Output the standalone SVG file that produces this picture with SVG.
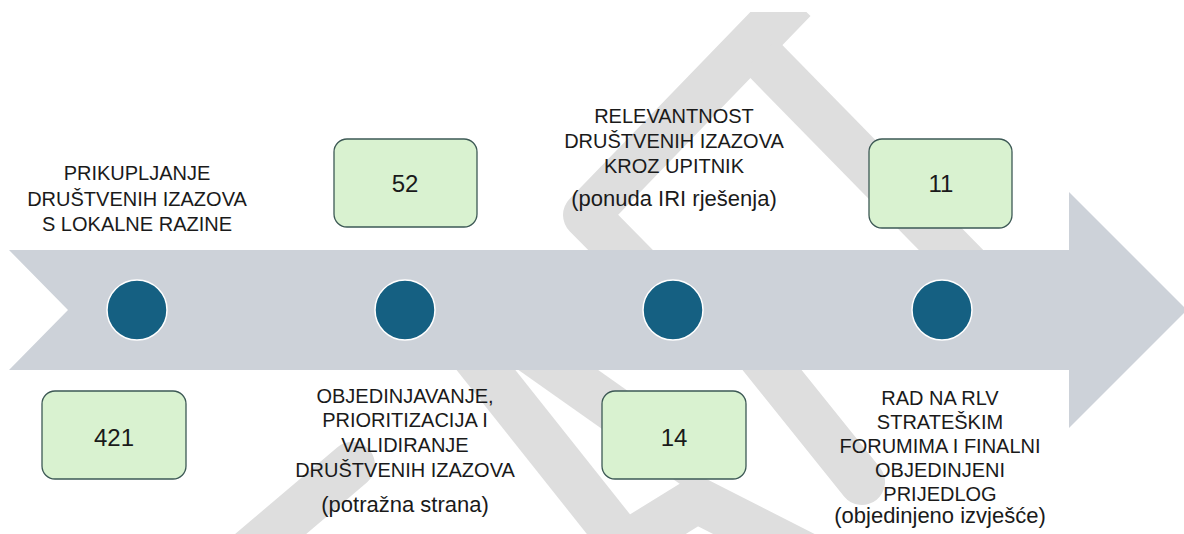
<svg xmlns="http://www.w3.org/2000/svg" width="1184" height="534" viewBox="0 0 1184 534">
<defs>
<style>
.wm{fill:none;stroke:#dedede;stroke-width:46;stroke-linejoin:round}
.box{fill:#d9f2d0;stroke:#3d5955;stroke-width:1.3}
.dot{fill:#156082;stroke:#ffffff;stroke-width:1.5}
.t{font-family:"Liberation Sans",Arial,sans-serif;font-size:20px;fill:#1a1a1a;text-anchor:middle}
.p{font-size:22px}
.n{font-family:"Liberation Sans",Arial,sans-serif;font-size:24px;fill:#1a1a1a;text-anchor:middle}
</style>
<clipPath id="wmclip"><rect x="0" y="12" width="1184" height="522"/></clipPath>
</defs>
<rect width="1184" height="534" fill="#ffffff"/>
<g id="watermark" clip-path="url(#wmclip)">
<polyline class="wm" points="794,0 586,215 660,290"/>
<polyline class="wm" stroke-width="42" points="760,55 1000,300"/>
<polyline class="wm" stroke-width="48" stroke-linecap="round" points="240,560 352,465"/>
<polyline class="wm" stroke-width="38" points="470,350 625,545"/>
<polyline class="wm" stroke-width="48" points="530,350 700,470"/>
<polyline class="wm" stroke-width="40" points="600,560 697,500 815,560"/>
<polyline class="wm" stroke-width="50" stroke-linecap="round" points="740,330 862,482"/>
</g>
<g id="connectors">
<polygon id="timeline-arrow" points="9,250 1069,250 1069,192 1187,310 1069,428 1069,370 9,370 68,310" fill="#cdd2d9"/>
</g>
<g id="step1">
<circle class="dot" cx="137" cy="310" r="30"/>
<text class="t"><tspan x="137" y="180">PRIKUPLJANJE</tspan><tspan x="137" y="206">DRUŠTVENIH IZAZOVA</tspan><tspan x="137" y="231">S LOKALNE RAZINE</tspan></text>
</g>
<g id="count421">
<rect class="box" x="42" y="391" width="144" height="88" rx="13"/>
<text class="n" x="114" y="446">421</text>
</g>
<g id="step2">
<circle class="dot" cx="405" cy="310" r="30"/>
<text class="t"><tspan x="405" y="403">OBJEDINJAVANJE,</tspan><tspan x="405" y="427">PRIORITIZACIJA I</tspan><tspan x="405" y="452">VALIDIRANJE</tspan><tspan x="405" y="477">DRUŠTVENIH IZAZOVA</tspan><tspan class="p" x="405" y="512">(potražna strana)</tspan></text>
</g>
<g id="count52">
<rect class="box" x="334" y="139" width="143" height="88" rx="13"/>
<text class="n" x="405" y="192">52</text>
</g>
<g id="step3">
<circle class="dot" cx="673" cy="310" r="30"/>
<text class="t"><tspan x="674" y="123">RELEVANTNOST</tspan><tspan x="674" y="148">DRUŠTVENIH IZAZOVA</tspan><tspan x="674" y="173">KROZ UPITNIK</tspan><tspan class="p" x="674" y="206">(ponuda IRI rješenja)</tspan></text>
</g>
<g id="count14">
<rect class="box" x="602" y="391" width="144" height="88" rx="13"/>
<text class="n" x="674" y="446">14</text>
</g>
<g id="step4">
<circle class="dot" cx="942" cy="310" r="30"/>
<text class="t"><tspan x="940" y="405">RAD NA RLV</tspan><tspan x="940" y="429">STRATEŠKIM</tspan><tspan x="940" y="453">FORUMIMA I FINALNI</tspan><tspan x="940" y="477">OBJEDINJENI</tspan><tspan x="940" y="501">PRIJEDLOG</tspan><tspan class="p" x="940" y="523">(objedinjeno izvješće)</tspan></text>
</g>
<g id="count11">
<rect class="box" x="869" y="139" width="143" height="89" rx="13"/>
<text class="n" x="941" y="192">11</text>
</g>
</svg>
